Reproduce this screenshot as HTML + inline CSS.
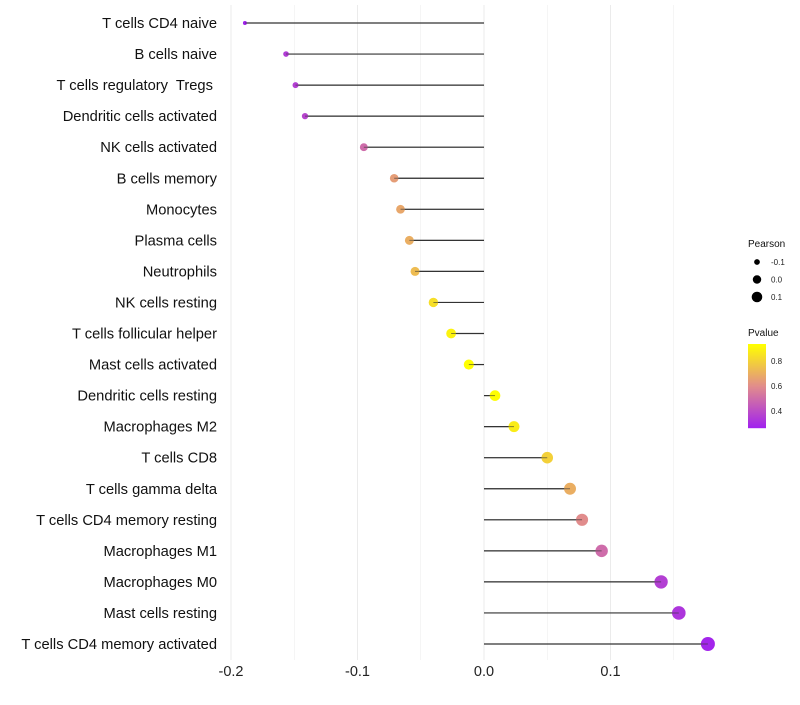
<!DOCTYPE html>
<html><head><meta charset="utf-8"><style>
body{margin:0;background:#fff;font-family:"Liberation Sans",sans-serif;}
text{white-space:pre;}
</style></head><body>
<svg id="chart" width="800" height="700" xmlns="http://www.w3.org/2000/svg"></svg>
<script>
const categories=["T cells CD4 naive","B cells naive","T cells regulatory  Tregs ","Dendritic cells activated","NK cells activated","B cells memory","Monocytes","Plasma cells","Neutrophils","NK cells resting","T cells follicular helper","Mast cells activated","Dendritic cells resting","Macrophages M2","T cells CD8","T cells gamma delta","T cells CD4 memory resting","Macrophages M1","Macrophages M0","Mast cells resting","T cells CD4 memory activated"];
const pearson=[-0.189,-0.1565,-0.149,-0.1415,-0.095,-0.071,-0.066,-0.059,-0.0545,-0.040,-0.026,-0.012,0.0087,0.0237,0.050,0.068,0.0775,0.093,0.140,0.154,0.177];
const pvalue=[0.27,0.35,0.36,0.38,0.5,0.65,0.68,0.7,0.74,0.84,0.9,0.94,0.93,0.88,0.8,0.7,0.6,0.5,0.36,0.33,0.28];
const xTicks=[-0.2,-0.1,0,0.1];
const xTickLabels=["-0.2","-0.1","0.0","0.1"];
const sizeLegend=[-0.1,0.0,0.1];
const colorLegend=[0.8,0.6,0.4];
const svg=document.getElementById('chart');
const NS="http://www.w3.org/2000/svg";
function x(v){return 484+v*1265;}
function y(i){return 23+i*31.05;}
function r(v){return Math.sqrt(4+Math.max(0,(v+0.189))/0.366*45);}
function lerp(a,b,t){return a.map((c,k)=>Math.round(c+(b[k]-c)*t));}
function col(p){const lo=0.264,hi=0.936,t=Math.max(0,Math.min(1,(p-lo)/(hi-lo)));
 const s=[[160,32,240],[225,140,140],[255,255,0]];
 const c=t<0.5?lerp(s[0],s[1],t*2):lerp(s[1],s[2],(t-0.5)*2);return `rgb(${c})`;}
function el(t,a,txt){const e=document.createElementNS(NS,t);for(const k in a)e.setAttribute(k,a[k]);if(txt!==undefined)e.textContent=txt;svg.appendChild(e);return e;}
for(let k=-4;k<=3;k++){const v=k*0.05;const g=el('line',{x1:x(v),x2:x(v),y1:5,y2:660,stroke:'#ebebeb','stroke-width':k%2===0?1:0.5});
}
xTicks.forEach((v,i)=>{const t=el('text',{x:x(v),y:676,'text-anchor':'middle','font-size':14.5,fill:'#222'},xTickLabels[i]);
});
categories.forEach((c,i)=>{
 const t=el('text',{x:217,y:y(i)+5,'text-anchor':'end','font-size':14.7,fill:'#111'},c);
 
 const l=el('line',{x1:x(0),x2:x(pearson[i]),y1:y(i),y2:y(i),stroke:'#333','stroke-width':1.2});
 
 const d=el('circle',{cx:x(pearson[i]),cy:y(i),r:r(pearson[i]),fill:col(pvalue[i])});
 
 const l2=el('line',{x1:x(0),x2:x(pearson[i]),y1:y(i),y2:y(i),stroke:'#333','stroke-width':1,'stroke-opacity':0.6});
 
});
let t=el('text',{x:748,y:247,'font-size':10,fill:'#111'},'Pearson');

sizeLegend.forEach((v,i)=>{const cy=262+i*17.5;
 const c=el('circle',{cx:757,cy:cy,r:r(v)-1,fill:'#000'});
 const tt=el('text',{x:771,y:cy+3,'font-size':8,fill:'#222'},v.toFixed(1));});
t=el('text',{x:748,y:336,'font-size':10,fill:'#111'},'Pvalue');

for(let k=0;k<84;k++){const p=0.936-(k/84)*0.672;const rr=el('rect',{x:748,y:344+k,width:18,height:1.2,fill:col(p)});
 }
colorLegend.forEach(v=>{const yy=344+(0.936-v)/0.672*84;
 const tt=el('text',{x:771,y:yy+3,'font-size':8,fill:'#222'},v.toFixed(1));});
</script>
</body></html>
